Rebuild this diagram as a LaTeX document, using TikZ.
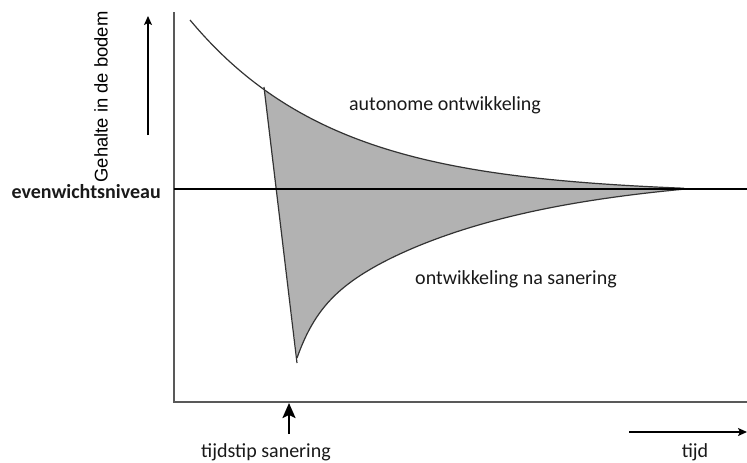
\documentclass[tikz,border=0pt]{standalone}
\usepackage{fontspec}
\setmainfont{Carlito}
\newfontfamily\arialfont{Liberation Sans}
\usetikzlibrary{arrows.meta}
\begin{document}
\begin{tikzpicture}[x=1pt,y=-1pt,
  axis/.style={draw=black!65, line width=2pt},
  eqline/.style={draw=black, line width=2.2pt},
  curve/.style={draw=black!80, line width=1.2pt},
  area/.style={fill=black!30},
  lbl/.style={font=\fontsize{20}{24}\selectfont, text=black!90, inner sep=0pt},
  arr/.style={draw=black, line width=1.5pt, -{Stealth[length=9pt,width=8pt,inset=2pt]}},
  bigarr/.style={draw=black, line width=2.2pt, -{Stealth[length=15pt,width=13pt,inset=3pt]}},
  declare function={
    up(\t)=189-(174*exp(-0.0069*(\t-190))-5);
    lo(\t)=189+(42.3*exp(-0.0487*(\t-297))+143.7*exp(-0.0055*(\t-297))-17);
  }]
\useasboundingbox (0,0) rectangle (747,463);

% axes
\coordinate (Ytop) at (174,12);
\coordinate (O) at (174,402);
\coordinate (Xend) at (747,402);
\coordinate (Eqa) at (174,189);
\coordinate (Eqb) at (747,189);
\coordinate (S1) at (264,87);
\coordinate (S2) at (297,363);

% shaded area
\fill[area] (264,{up(264)})
  -- plot[domain=264:684, samples=140] (\x,{up(\x)})
  -- plot[domain=684:297, samples=160] (\x,{lo(\x)})
  -- cycle;

\draw[axis] (Ytop) -- (O) -- (Xend);

% curves
\draw[curve] plot[domain=190:684, samples=160] (\x,{up(\x)});
\draw[curve] plot[domain=297:684, samples=160] (\x,{lo(\x)});
\draw[curve] (S1) -- (S2);

\draw[eqline] (Eqa) -- (Eqb);

% labels
\node[lbl] (auto) at (445,105) {autonome ontwikkeling};
\node[lbl] (na) at (516,279) {ontwikkeling na sanering};
\node[lbl] (tijdstip) at (266,452) {tijdstip sanering};
\node[lbl] (tijd) at (695,452) {tijd};
\node[lbl, font=\fontsize{20}{24}\selectfont\bfseries, anchor=east] (evenw) at (161,192) {evenwichtsniveau};
\node[rotate=90, font=\arialfont\fontsize{18.4}{22}\selectfont, inner sep=0pt] (gehalte) at (101,97) {Gehalte in de bodem};

% arrows
\coordinate (Va) at (148,135);
\coordinate (Vb) at (148,16);
\draw[arr] (Va) -- (Vb);
\coordinate (Ta) at (289,434);
\coordinate (Tb) at (289,403);
\draw[bigarr] (Ta) -- (Tb);
\coordinate (Ha) at (629,432);
\coordinate (Hb) at (747,432);
\draw[arr] (Ha) -- (Hb);
\end{tikzpicture}
\end{document}
